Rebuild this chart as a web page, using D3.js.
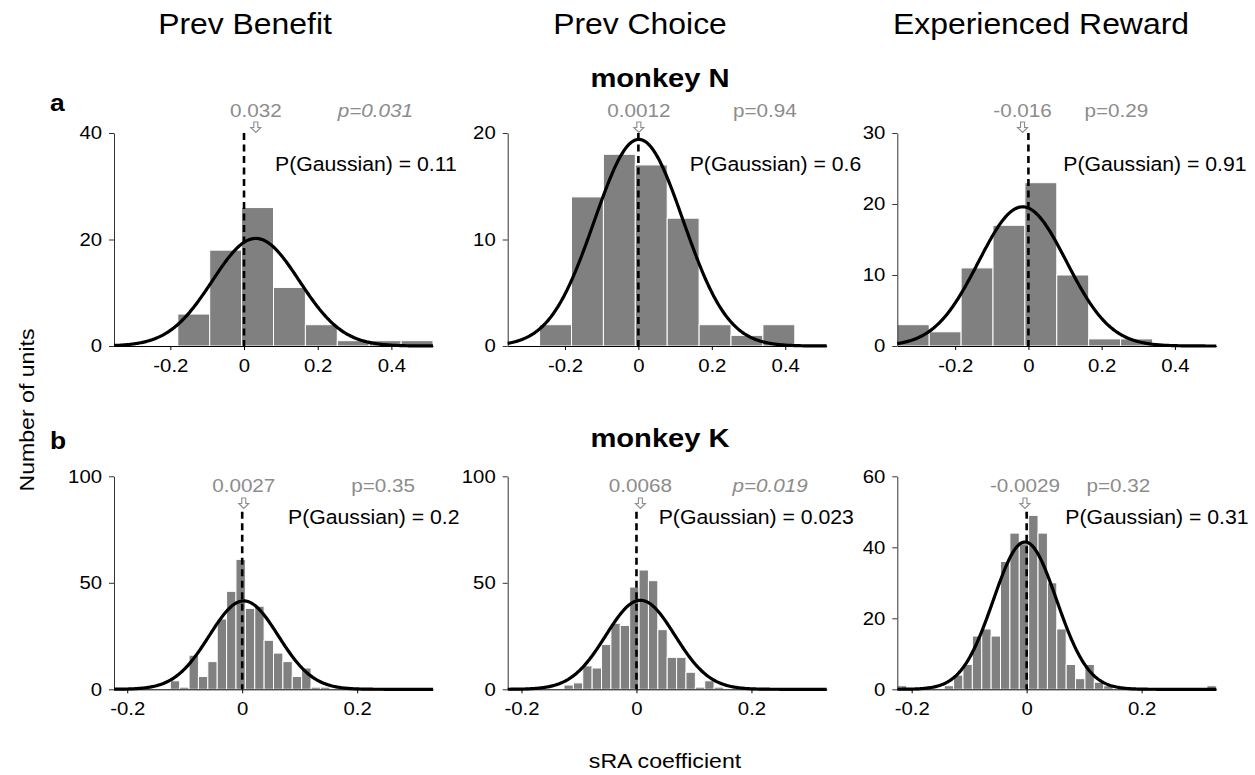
<!DOCTYPE html>
<html>
<head>
<meta charset="utf-8">
<script src="https://cdn.jsdelivr.net/npm/d3@7"></script>
<style>
  body { margin: 0; background: #fff; }
  svg { display: block; }
  text { font-family: "Liberation Sans", Arial, Helvetica, sans-serif; }
</style>
</head>
<body>
<svg id="chart" width="1255" height="775"></svg>
<script>
// ---------- data ----------
const columnTitles = ["Prev Benefit", "Prev Choice", "Experienced Reward"];
const monkeyTitles = ["monkey N", "monkey K"];
const rowLetters = ["a", "b"];

// histogram bins: first edge and bin width for each panel (row-major)
const binStart = [-0.353, -0.356, -0.358, -0.223, -0.224, -0.225];
const binWidth = [0.0866, 0.0869, 0.0871, 0.01632, 0.01632, 0.01632];

// unit counts per bin
const countsBenefitN = [0, 0, 6, 18, 26, 11, 4, 1, 1, 1];
const countsChoiceN  = [0, 2, 14, 18, 17, 12, 2, 1, 2, 0];
const countsRewardN  = [3, 2, 11, 17, 23, 10, 1, 1, 0, 0];
const countsBenefitK = [0, 0, 0, 0, 0, 0, 4, 1, 16, 6, 13, 33, 46, 61, 38, 39, 23, 17,
                        13, 6, 10, 1, 1, 0, 1, 0, 0, 0, 0, 0, 0, 0, 0, 0];
const countsChoiceK  = [0, 0, 0, 0, 0, 0, 2, 3, 11, 10, 21, 31, 30, 48, 56, 51, 28, 15,
                        15, 8, 1, 4, 1, 0, 0, 0, 0, 0, 0, 0, 0, 0, 0, 0];
const countsRewardK  = [1, 0, 0, 0, 0, 1, 4, 7, 15, 17, 15, 36, 44, 41, 49, 44, 30, 17,
                        7, 3, 7, 2, 1, 0, 0, 0, 0, 0, 0, 0, 0, 0, 0, 1];
const panelCounts = [countsBenefitN, countsChoiceN, countsRewardN,
                     countsBenefitK, countsChoiceK, countsRewardK];

// y axes
const yMaxValues = [40, 20, 30, 100, 100, 60];
const yTickValues = [[0, 20, 40], [0, 10, 20], [0, 10, 20, 30],
                     [0, 50, 100], [0, 50, 100], [0, 20, 40, 60]];
// x axes
const xTickValuesN = [-0.2, 0, 0.2, 0.4];
const xTickValuesK = [-0.2, 0, 0.2];

// distribution means (arrow + label), Gaussian fits
const meanValues = [0.032, 0.0012, -0.016, 0.0027, 0.0068, -0.0029];
const fitSD = [0.118, 0.121, 0.12, 0.06, 0.06, 0.055];
const fitPeak = [20.2, 19.4, 19.6, 41.5, 41.8, 41.5];

// significance labels
const pLabels = ["p=0.031", "p=0.94", "p=0.29", "p=0.35", "p=0.019", "p=0.32"];
const pSignificant = [true, false, false, false, true, false];
const gaussLabels = ["P(Gaussian) = 0.11", "P(Gaussian) = 0.6", "P(Gaussian) = 0.91",
                     "P(Gaussian) = 0.2", "P(Gaussian) = 0.023", "P(Gaussian) = 0.31"];

const xAxisTitle = "sRA coefficient";
const yAxisTitle = "Number of units";

// ---------- layout ----------
const svg = d3.select("#chart");
const SX = 1.1;                      // horizontal text stretch
const panelLeft = [114, 507.7, 897.3];
const panelW = 319;
const rowTop = [133, 476.3];
const panelH = 213;
const grey = "#8c8c8c";
const FONT = "Liberation Sans, Arial, sans-serif";

// annotation offsets (px from panel left)
const pRight = [299, 289, 251, 301, 300, 253];
const gaussLeft = [161, 182, 166, 174, 151, 168];

function label(parent, x, y, str, opts = {}) {
  const t = parent.append("text")
    .attr("transform", `translate(${x},${y})${opts.rotate ? " rotate(" + opts.rotate + ")" : ""} scale(${SX},1)`)
    .attr("text-anchor", opts.anchor || "start")
    .attr("font-size", opts.size || 17)
    .attr("fill", opts.fill || "#000")
    .text(str);
  if (opts.bold) t.attr("font-weight", "bold");
  if (opts.italic) t.attr("font-style", "italic");
  return t;
}

// column titles
const titleX = [245, 640, 1041];
columnTitles.forEach((t, i) => label(svg, titleX[i], 34, t, {anchor: "middle", size: 29}));

// row titles
label(svg, 660, 87, monkeyTitles[0], {anchor: "middle", size: 26.5, bold: true});
label(svg, 660, 447, monkeyTitles[1], {anchor: "middle", size: 26.5, bold: true});
label(svg, 50, 111, rowLetters[0], {size: 24, bold: true});
label(svg, 50, 449, rowLetters[1], {size: 24, bold: true});

// axis titles
label(svg, 34, 410, yAxisTitle, {anchor: "middle", size: 21, rotate: -90});
label(svg, 665, 768, xAxisTitle, {anchor: "middle", size: 21});

// ---------- panels ----------
panelCounts.forEach((counts, i) => {
  const row = Math.floor(i / 3), col = i % 3;
  const x0 = panelLeft[col], y0 = rowTop[row];
  const lo = binStart[i], bw = binWidth[i], hi = lo + counts.length * bw;

  const x = d3.scaleLinear().domain([lo, hi]).range([x0, x0 + panelW]);
  const y = d3.scaleLinear().domain([0, yMaxValues[i]]).range([y0 + panelH, y0]);
  const g = svg.append("g");

  // histogram bars
  const bins = counts.map((c, k) => ({x0: lo + k * bw, x1: lo + (k + 1) * bw, n: c}));
  g.selectAll("rect.bar").data(bins.filter(d => d.n > 0)).join("rect")
    .attr("class", "bar")
    .attr("x", d => x(d.x0))
    .attr("width", d => x(d.x1) - x(d.x0))
    .attr("y", d => y(d.n))
    .attr("height", d => y(0) - y(d.n))
    .attr("fill", "#808080")
    .attr("stroke", "#fff")
    .attr("stroke-width", 1);

  // x axis
  const xAxis = d3.axisBottom(x)
    .tickValues(row === 0 ? xTickValuesN : xTickValuesK)
    .tickFormat(d => String(d))
    .tickSizeInner(4).tickSizeOuter(0).tickPadding(9);
  const gx = g.append("g").attr("transform", `translate(0,${y(0)})`).call(xAxis);
  gx.select(".domain").attr("stroke", "#000").attr("stroke-width", 1);
  gx.selectAll(".tick line").attr("stroke", "#000");
  gx.selectAll(".tick text").attr("font-size", 18.5).attr("fill", "#000")
    .attr("font-family", FONT)
    .attr("transform", `scale(${SX},1)`);

  // y axis
  const yAxis = d3.axisLeft(y).tickValues(yTickValues[i]).tickFormat(d => String(d))
    .tickSizeInner(5).tickSizeOuter(0).tickPadding(5);
  const gy = g.append("g").attr("transform", `translate(${x0},0)`).call(yAxis);
  gy.select(".domain").attr("stroke", "#333").attr("stroke-width", 1);
  gy.selectAll(".tick line").attr("stroke", "#333");
  gy.selectAll(".tick text").attr("font-size", 18.5).attr("fill", "#000")
    .attr("font-family", FONT)
    .attr("x", -12 / SX)
    .attr("transform", `scale(${SX},1)`);

  // Gaussian fit
  const m = meanValues[i], sd = fitSD[i], pk = fitPeak[i];
  const xs = d3.range(0, 301).map(k => lo + (hi - lo) * k / 300);
  const line = d3.line().x(v => x(v)).y(v => y(pk * Math.exp(-((v - m) ** 2) / (2 * sd * sd))));
  g.append("path").datum(xs).attr("d", line)
    .attr("fill", "none").attr("stroke", "#000").attr("stroke-width", 3.2)
    .attr("stroke-linejoin", "round");

  // dashed zero line
  const dashTop = row === 0 ? y0 : y0 + 35.4;
  g.append("line")
    .attr("x1", x(0)).attr("x2", x(0))
    .attr("y1", dashTop).attr("y2", y(0))
    .attr("stroke", "#000").attr("stroke-width", 2.6).attr("stroke-dasharray", "7,4.5");

  // mean arrow and label
  const mx = x(m);
  const labelY = row === 0 ? y0 - 16.5 : y0 + 15.5;
  const arrowTop = row === 0 ? y0 - 11 : y0 + 21.7;
  label(g, mx, labelY, String(m), {anchor: "middle", size: 18.8, fill: grey});
  const a = arrowTop;
  g.append("path")
    .attr("d", `M${mx - 2},${a} L${mx + 2},${a} L${mx + 2},${a + 5.5} L${mx + 5},${a + 5.5} L${mx},${a + 10.5} L${mx - 5},${a + 5.5} L${mx - 2},${a + 5.5} Z`)
    .attr("fill", "#fff").attr("stroke", grey).attr("stroke-width", 1.1);

  // p value
  label(g, x0 + pRight[i], labelY, pLabels[i],
        {anchor: "end", size: 18.8, fill: grey, italic: pSignificant[i]});

  // Gaussianity test
  label(g, x0 + gaussLeft[i], row === 0 ? y0 + 38 : y0 + 48, gaussLabels[i], {size: 19.3});
});
</script>
</body>
</html>
